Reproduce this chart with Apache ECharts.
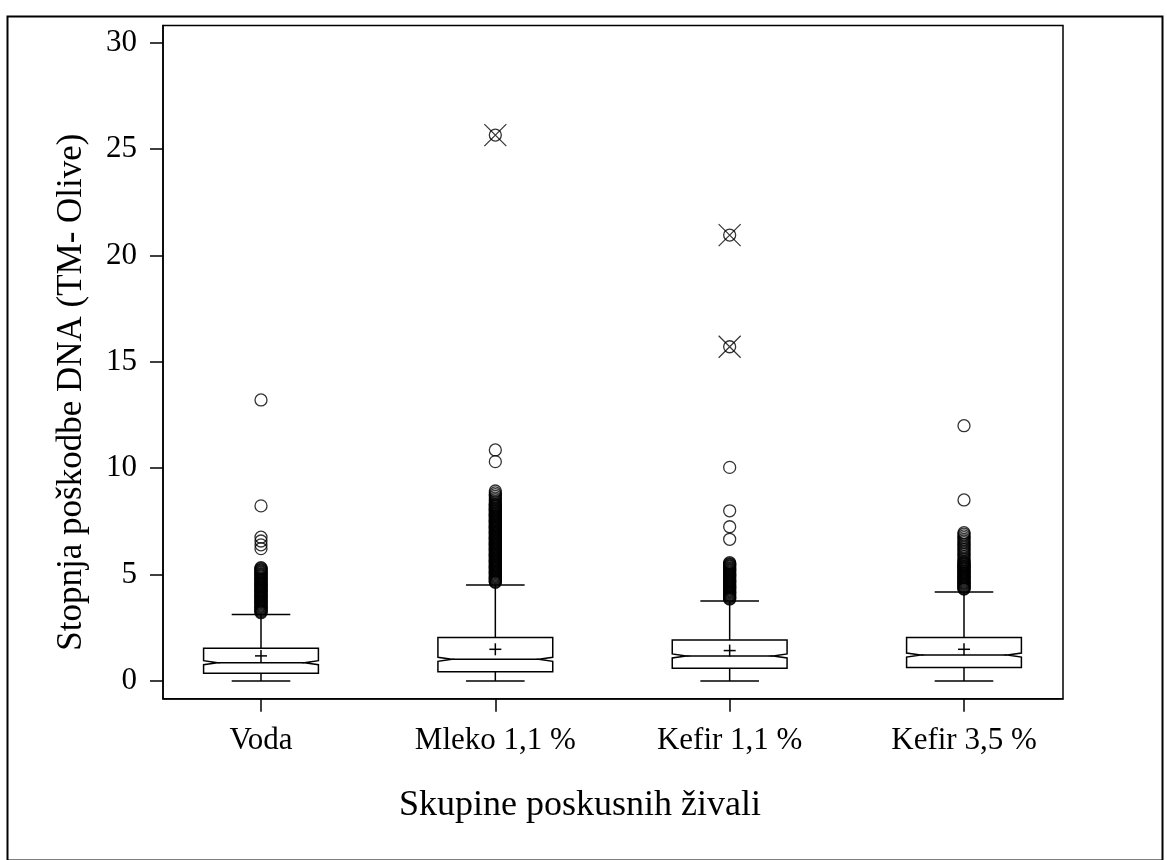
<!DOCTYPE html>
<html>
<head>
<meta charset="utf-8">
<script src="https://cdn.jsdelivr.net/npm/echarts@6/dist/echarts.min.js"></script>
<style>
html,body{margin:0;padding:0;background:#fff;}
#chart{width:1167px;height:860px;}
</style>
</head>
<body>
<div id="chart"></div>
<script>
// ---- data ----
const categories = ['Voda', 'Mleko 1,1 %', 'Kefir 1,1 %', 'Kefir 3,5 %'];
const whiskerLow  = [0, 0, 0, 0];
const q1          = [0.36, 0.44, 0.60, 0.64];
const median      = [0.86, 1.02, 1.18, 1.22];
const q3          = [1.54, 2.05, 1.93, 2.04];
const whiskerHigh = [3.13, 4.51, 3.76, 4.18];
const means       = [1.18, 1.49, 1.43, 1.49];
const yTicks      = [0, 5, 10, 15, 20, 25, 30];

const outliersVoda = [13.21, 8.23, 6.76, 6.58, 6.40, 6.22,
  5.33, 5.29, 5.25, 5.21, 5.17, 5.13, 5.09, 5.05, 5.01, 4.97, 4.93, 4.89, 4.85, 4.81, 4.77,
  4.73, 4.69, 4.65, 4.61, 4.57, 4.53, 4.49, 4.45, 4.41, 4.37, 4.33, 4.29, 4.25, 4.21, 4.17,
  4.13, 4.09, 4.05, 4.01, 3.97, 3.93, 3.89, 3.85, 3.81, 3.77, 3.73, 3.69, 3.65, 3.61, 3.57,
  3.53, 3.49, 3.45, 3.41, 3.37, 3.33, 3.29, 3.25, 3.21];
const outliersMleko = [10.86, 10.31, 8.93, 8.84, 8.76, 8.68, 8.60, 8.52, 8.44, 8.37, 8.30,
  8.26, 8.22, 8.18, 8.14, 8.10, 8.06, 8.02, 7.98, 7.94, 7.90, 7.86, 7.82, 7.78, 7.74, 7.70,
  7.66, 7.62, 7.58, 7.54, 7.50, 7.46, 7.42, 7.38, 7.34, 7.30, 7.26, 7.22, 7.18, 7.14, 7.10,
  7.06, 7.02, 6.98, 6.94, 6.90, 6.86, 6.82, 6.78, 6.74, 6.70, 6.66, 6.62, 6.58, 6.54, 6.50,
  6.46, 6.42, 6.38, 6.34, 6.30, 6.26, 6.22, 6.18, 6.14, 6.10, 6.06, 6.02, 5.98, 5.94, 5.90,
  5.86, 5.82, 5.78, 5.74, 5.70, 5.66, 5.62, 5.58, 5.54, 5.50, 5.46, 5.42, 5.38, 5.34, 5.30,
  5.26, 5.22, 5.18, 5.14, 5.10, 5.06, 5.02, 4.98, 4.94, 4.90, 4.86, 4.82, 4.78, 4.74, 4.70,
  4.66, 4.64];
const outliersKefir11 = [10.04, 8.00, 7.25, 6.66,
  5.56, 5.52, 5.48, 5.44, 5.40, 5.36, 5.32, 5.28, 5.24, 5.20, 5.16, 5.12, 5.08, 5.04, 5.00,
  4.96, 4.92, 4.88, 4.84, 4.80, 4.76, 4.72, 4.68, 4.64, 4.60, 4.56, 4.52, 4.48, 4.44, 4.40,
  4.36, 4.32, 4.28, 4.24, 4.20, 4.16, 4.12, 4.08, 4.04, 4.00, 3.96, 3.92, 3.88, 3.85];
const outliersKefir35 = [12.00, 8.51, 6.97, 6.90, 6.82, 6.74, 6.66, 6.58, 6.50, 6.42, 6.34,
  6.26, 6.18, 6.10, 6.02, 5.94, 5.86, 5.78, 5.70, 5.62,
  5.58, 5.54, 5.50, 5.46, 5.42, 5.38, 5.34, 5.30, 5.26, 5.22, 5.18, 5.14, 5.10, 5.06, 5.02,
  4.98, 4.94, 4.90, 4.86, 4.82, 4.78, 4.74, 4.70, 4.66, 4.62, 4.58, 4.54, 4.50, 4.46, 4.42,
  4.38, 4.34, 4.32];
const extremeMleko = [25.66];
const extremeKefir11 = [20.96, 15.71];

// ---- build ----
const outlierGroups = [outliersVoda, outliersMleko, outliersKefir11, outliersKefir35];
const extremeGroups = [[], extremeMleko, extremeKefir11, []];
const boxData = categories.map((c, i) => [i + 1, whiskerLow[i], q1[i], median[i], q3[i], whiskerHigh[i], means[i]]);
const outlierData = [];
outlierGroups.forEach((g, i) => g.forEach(v => outlierData.push([i + 1, v])));
const extremeData = [];
extremeGroups.forEach((g, i) => g.forEach(v => extremeData.push([i + 1, v])));

const FONT = 'Liberation Serif';
const LW = 1.5;

function renderBox(params, api) {
  const xv = api.value(0);
  const unit = api.size([1, 0])[0];
  const cx = api.coord([xv, 0])[0];
  const y = k => api.coord([xv, api.value(k)])[1];
  const yLo = y(1), yQ1 = y(2), yMed = y(3), yQ3 = y(4), yHi = y(5), yMean = y(6);
  const bw = unit * 0.245, cw = unit * 0.125, nw = 14, nh = 2, pm = 6;
  const st = {stroke: '#000', lineWidth: LW, fill: null};
  const line = (x1, y1, x2, y2) => ({type: 'line', shape: {x1, y1, x2, y2}, style: st});
  return {
    type: 'group',
    children: [
      {type: 'polygon', shape: {points: [
        [cx - bw, yQ3], [cx + bw, yQ3], [cx + bw, yMed - nh], [cx + bw - nw, yMed], [cx + bw, yMed + nh],
        [cx + bw, yQ1], [cx - bw, yQ1], [cx - bw, yMed + nh], [cx - bw + nw, yMed], [cx - bw, yMed - nh]
      ]}, style: {stroke: '#000', lineWidth: LW, fill: 'none'}},
      line(cx - bw + nw, yMed, cx + bw - nw, yMed),
      line(cx, yQ3, cx, yHi),
      line(cx - cw, yHi, cx + cw, yHi),
      line(cx, yQ1, cx, yLo),
      line(cx - cw, yLo, cx + cw, yLo),
      line(cx - pm, yMean, cx + pm, yMean),
      line(cx, yMean - pm, cx, yMean + pm)
    ]
  };
}

const chart = echarts.init(document.getElementById('chart'), null, {renderer: 'canvas'});
chart.setOption({
  backgroundColor: '#fff',
  animation: false,
  graphic: [{
    type: 'rect', left: 5, top: 14, shape: {width: 1155, height: 844},
    style: {fill: 'none', stroke: '#000', lineWidth: 2}
  }],
  grid: {left: 163, top: 25.5, right: 104, bottom: 161.3, show: true, borderColor: '#000', borderWidth: 1.5, backgroundColor: 'transparent'},
  xAxis: {
    type: 'value', min: 0.5818, max: 4.4225,
    splitLine: {show: false},
    axisLine: {show: true, onZero: false, lineStyle: {color: '#000', width: 1.5}},
    axisTick: {show: true, inside: false, length: 13, lineStyle: {color: '#000', width: 1.5}, customValues: [1, 2, 3, 4]},
    axisLabel: {show: true, customValues: [1, 2, 3, 4], margin: 27, color: '#000', fontFamily: FONT, fontSize: 31,
      formatter: v => categories[Math.round(v) - 1] || ''},
    name: 'Skupine poskusnih živali', nameLocation: 'middle', nameGap: 89,
    nameTextStyle: {color: '#000', fontFamily: FONT, fontSize: 36, padding: [0, 66, 0, 0]}
  },
  yAxis: {
    type: 'value', min: -0.832, max: 30.81,
    splitLine: {show: false},
    axisLine: {show: true, onZero: false, lineStyle: {color: '#000', width: 1.5}},
    axisTick: {show: true, inside: false, length: 13, lineStyle: {color: '#000', width: 1.5}, customValues: yTicks},
    axisLabel: {show: true, customValues: yTicks, margin: 26, color: '#000', fontFamily: FONT, fontSize: 31},
    name: 'Stopnja poškodbe DNA (TM- Olive)', nameLocation: 'middle', nameGap: 74, nameRotate: 90,
    nameTextStyle: {color: '#000', fontFamily: FONT, fontSize: 35, padding: [0, 60, 0, 0]}
  },
  series: [
    {type: 'custom', renderItem: renderBox, data: boxData, encode: {x: 0, y: [1, 2, 3, 4, 5, 6]}, z: 3},
    {type: 'scatter', data: outlierData, symbol: 'circle', symbolSize: 12,
      itemStyle: {color: 'rgba(0,0,0,0)', borderColor: '#000', borderWidth: 1.3}, z: 4},
    {type: 'scatter', data: extremeData, symbol: 'circle', symbolSize: 12,
      itemStyle: {color: 'rgba(0,0,0,0)', borderColor: '#000', borderWidth: 1.3}, z: 4},
    {type: 'scatter', data: extremeData, symbol: 'path://M0,0L10,10M10,0L0,10', symbolSize: 22,
      itemStyle: {color: 'none', borderColor: '#000', borderWidth: 1.2}, z: 4}
  ]
});
</script>
</body>
</html>
